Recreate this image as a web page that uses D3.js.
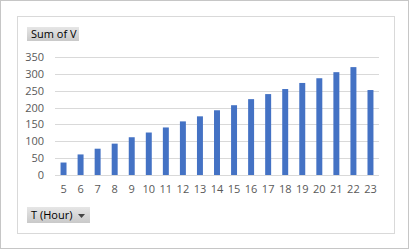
<!DOCTYPE html>
<html>
<head>
<meta charset="utf-8">
<script src="https://cdn.jsdelivr.net/npm/d3@7"></script>
<style>
  body { margin: 0; background: #fff; }
  svg text { font-family: "Segoe UI", "Open Sans", "Noto Sans", sans-serif; }
</style>
</head>
<body>
<div id="chart"></div>
<script>
// hours on the x axis and summed V per hour
const hours = [5, 6, 7, 8, 9, 10, 11, 12, 13, 14, 15, 16, 17, 18, 19, 20, 21, 22, 23];
const sumV = [37, 61, 78, 93, 112, 126, 141, 159, 174, 192, 207, 225, 240, 255, 273, 287, 305, 320, 252];
const yTicks = [0, 50, 100, 150, 200, 250, 300, 350];

const W = 409, H = 249;
const margin = { top: 57, right: 30, bottom: 74, left: 55 };
const width = W - margin.left - margin.right;
const height = H - margin.top - margin.bottom;

const svg = d3.select("#chart").append("svg")
    .attr("width", W)
    .attr("height", H);

// outer border + inner chart area frame
svg.append("rect")
    .attr("x", 0.5).attr("y", 0.5)
    .attr("width", W - 1).attr("height", H - 1)
    .attr("fill", "#fff").attr("stroke", "#c6c6c6");
svg.append("rect")
    .attr("x", 17.5).attr("y", 16.5)
    .attr("width", 377).attr("height", 217)
    .attr("fill", "#fff").attr("stroke", "#d9d9d9");

const defs = svg.append("defs");
const grad = defs.append("linearGradient")
    .attr("id", "btn").attr("x1", 0).attr("y1", 0).attr("x2", 0).attr("y2", 1);
grad.append("stop").attr("offset", "0%").attr("stop-color", "#e6e6e6");
grad.append("stop").attr("offset", "100%").attr("stop-color", "#c9c9c9");

const g = svg.append("g")
    .attr("transform", "translate(" + margin.left + "," + margin.top + ")");

const x = d3.scaleBand().domain(hours).range([0, width]).paddingInner(0.65).paddingOuter(0.325);
const y = d3.scaleLinear().domain([0, 350]).range([height, 0]);

// gridlines
g.selectAll(".grid").data(yTicks).join("line")
    .attr("class", "grid")
    .attr("x1", 0).attr("x2", width)
    .attr("y1", d => Math.round(y(d)) + 0.5)
    .attr("y2", d => Math.round(y(d)) + 0.5)
    .attr("stroke", "#d9d9d9");

// y axis labels
const yAxis = g.append("g")
    .call(d3.axisLeft(y).tickValues(yTicks).tickSize(0).tickPadding(11));
yAxis.select(".domain").remove();
yAxis.selectAll("text").attr("fill", "#595959").style("font-size", "11px");

// x axis labels
const xAxis = g.append("g")
    .attr("transform", "translate(0," + height + ")")
    .call(d3.axisBottom(x).tickSize(0).tickPadding(10));
xAxis.select(".domain").remove();
xAxis.selectAll("text").attr("fill", "#595959").style("font-size", "11px");

// bars
g.selectAll(".bar").data(hours).join("rect")
    .attr("class", "bar")
    .attr("x", (d) => x(d))
    .attr("width", x.bandwidth())
    .attr("y", (d, i) => y(sumV[i]))
    .attr("height", (d, i) => height - y(sumV[i]))
    .attr("fill", "#4472c4");

// pivot field buttons
function button(bx, by, bw, bh, label, arrow) {
    const b = svg.append("g").attr("transform", "translate(" + bx + "," + by + ")");
    b.append("rect").attr("width", bw).attr("height", bh).attr("fill", "url(#btn)");
    b.append("text")
        .attr("x", 4).attr("y", bh / 2 + 4)
        .attr("fill", "#000")
        .style("font-size", "11px")
        .text(label);
    if (arrow) {
        b.append("path")
            .attr("d", "M" + (bw - 12) + "," + (bh / 2 - 1) + "h7l-3.5,4z")
            .attr("fill", "#444");
    }
}
button(27, 27, 52, 14, "Sum of V", false);
button(27, 207, 63, 16, "T (Hour)", true);
</script>
</body>
</html>
